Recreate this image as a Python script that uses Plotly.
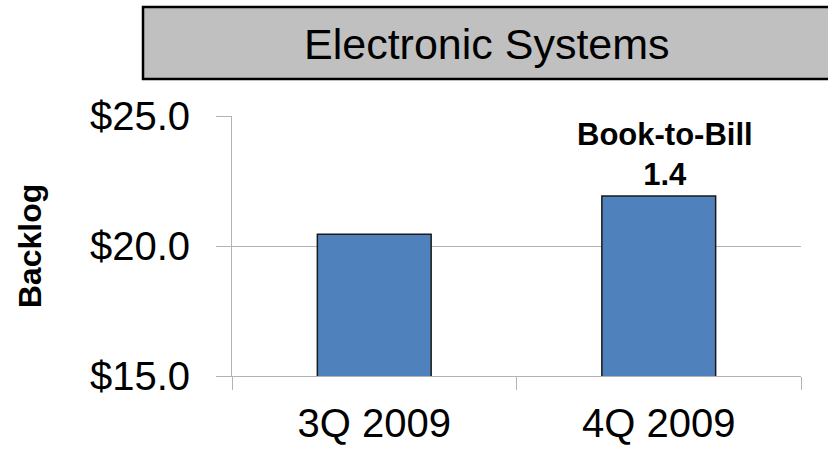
import plotly.graph_objects as go

quarters = ["3Q 2009", "4Q 2009"]
backlog = [20.45, 21.92]
tick_vals = [15, 20, 25]
tick_text = ["$15.0", "$20.0", "$25.0"]
panel_title = "Electronic Systems"
ratio_label = "Book-to-Bill<br>1.4"

FONT = "Liberation Sans, Arial, sans-serif"
GRID = "#b3b3b3"

fig = go.Figure(
    go.Bar(
        x=quarters,
        y=backlog,
        marker=dict(color="#4f81bd", line=dict(color="#1a1a1a", width=1.5)),
        hoverinfo="skip",
    )
)

fig.update_layout(
    width=828,
    height=449,
    margin=dict(l=232, r=27, t=116, b=73),
    paper_bgcolor="white",
    plot_bgcolor="white",
    showlegend=False,
    bargap=0.6,
    font=dict(family=FONT, color="black"),
)

fig.update_yaxes(
    range=[15, 25],
    tickvals=tick_vals,
    ticktext=tick_text,
    tickfont=dict(size=40),
    ticks="outside",
    ticklen=15,
    tickcolor=GRID,
    showgrid=True,
    gridcolor=GRID,
    gridwidth=1,
    showline=True,
    linecolor=GRID,
    linewidth=1,
    zeroline=False,
    automargin=False,
    ticklabelstandoff=18,
    title=dict(text="<b>Backlog</b>", font=dict(size=32), standoff=38),
)

fig.update_xaxes(
    type="category",
    tickfont=dict(size=40),
    ticks="outside",
    tickson="boundaries",
    ticklen=13,
    tickcolor=GRID,
    showline=True,
    linecolor=GRID,
    linewidth=1,
    showgrid=False,
    automargin=False,
    ticklabelstandoff=12,
)

# grey header box with the panel name
fig.add_shape(
    type="rect",
    xref="paper", yref="paper",
    x0=-0.1564, x1=1.06, y0=1.142, y1=1.419,
    fillcolor="#c0c0c0",
    line=dict(color="black", width=2.5),
    layer="above",
)
fig.add_annotation(
    xref="paper", yref="paper",
    x=0.448, y=1.278,
    text=panel_title,
    showarrow=False,
    font=dict(size=43, color="black"),
    xanchor="center", yanchor="middle",
)

# ratio note above the latest bar
fig.add_annotation(
    x=quarters[1], y=backlog[1],
    text=f"<b>{ratio_label}</b>",
    showarrow=False,
    font=dict(size=31, color="black"),
    xanchor="center", yanchor="bottom",
    xshift=6, yshift=2,
)

fig.write_html("out.html")
